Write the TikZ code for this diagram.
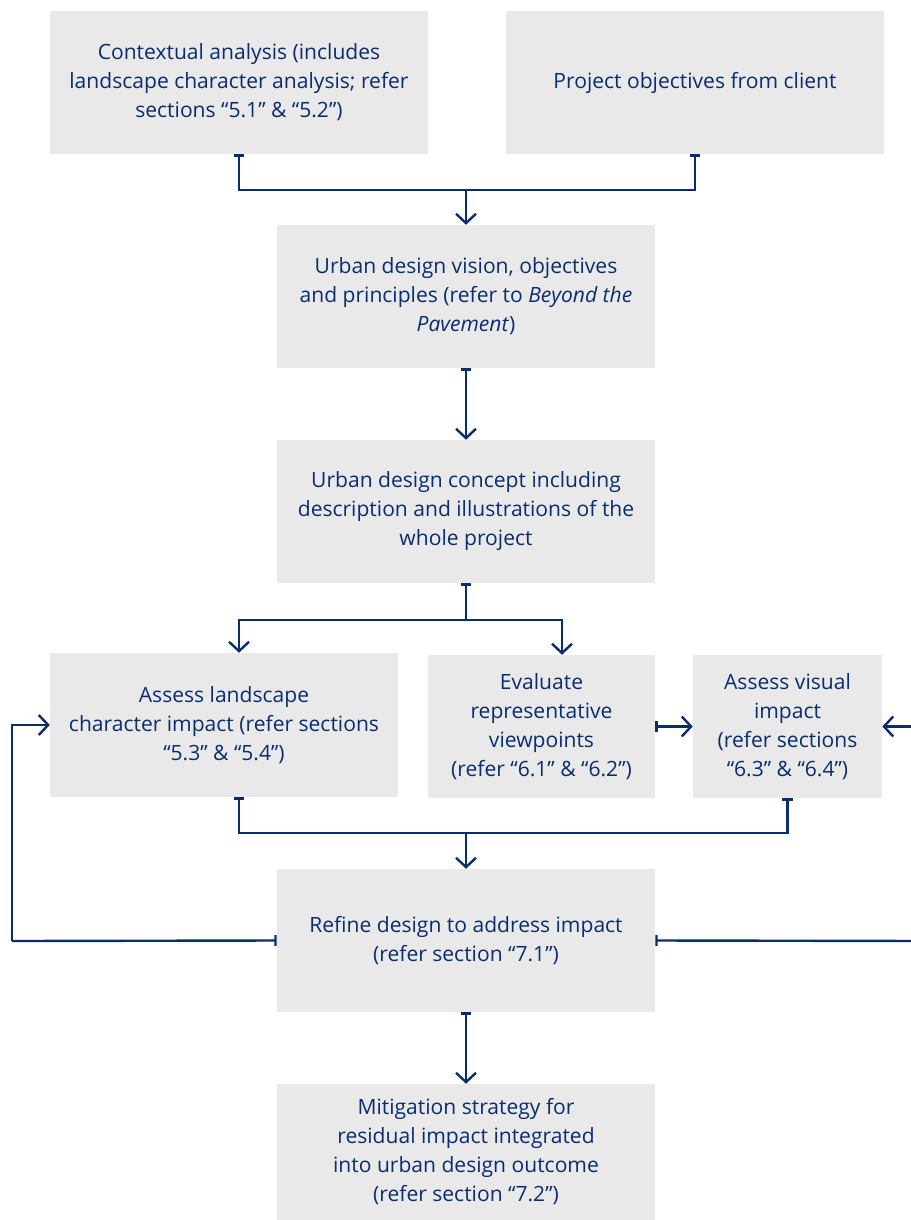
\documentclass[tikz,border=0pt]{standalone}
\usepackage{fontspec}
\setmainfont{Open Sans}
\usepackage{xcolor}
\usepackage{tikz}
\usetikzlibrary{calc,arrows.meta,positioning}
\definecolor{navy}{HTML}{0B2D6E}
\definecolor{boxgray}{HTML}{E9E9E9}
\tikzset{>={Straight Barb[length=7pt,width=15pt]}}
\tikzset{
  stepbox/.style={fill=boxgray, text=navy, align=center, inner sep=0pt,
    font=\fontsize{15.8}{21.75}\selectfont,
    minimum width=283.5pt, minimum height=107.25pt},
  link/.style={draw=navy, line width=1.8pt, {Bar[width=8pt]}->},
  mergeline/.style={draw=navy, line width=1.8pt, {Bar[width=8pt]}-},
  feed/.style={draw=navy, line width=1.8pt, ->}
}

\begin{document}
\begin{tikzpicture}[x=0.75pt,y=-0.75pt]

                % Page frame
                \useasboundingbox (0,0) rectangle (910,1220);

                % Boxes
                \node[stepbox] (ctx) at (239,82.5) {Contextual analysis (includes\\landscape character analysis; refer\\sections “5.1” \& “5.2”)};
                \node[stepbox] (obj) at (695,82.5) {Project objectives from client};
                \node[stepbox] (vis) at (466,296.5) {Urban design vision, objectives\\and principles (refer to \textit{Beyond the}\\\textit{Pavement})};
                \node[stepbox] (con) at (466,511.5) {Urban design concept including\\description and illustrations of the\\whole project};
                \node[stepbox, minimum width=261pt, minimum height=108pt] (lsc) at (224,725) {Assess landscape\\character impact (refer sections\\“5.3” \& “5.4”)};
                \node[stepbox, minimum width=170.25pt] (eva) at (541.5,726.5) {Evaluate\\representative\\viewpoints\\(refer “6.1” \& “6.2”)};
                \node[stepbox, minimum width=141.75pt] (vsi) at (787.5,726.5) {Assess visual\\impact\\(refer sections\\“6.3” \& “6.4”)};
                \node[stepbox] (ref) at (466,940.5) {Refine design to address impact\\(refer section “7.1”)};
                \node[stepbox, minimum height=102pt] (mit) at (466,1152) {Mitigation strategy for\\residual impact integrated\\into urban design outcome\\(refer section “7.2”)};

                % Junction points
                \coordinate (j1) at (466,190);
                \coordinate (j2) at (466,620);
                \coordinate (j3) at (466,833);
                \coordinate (fbl) at (12,941);
                \coordinate (fbr) at (930,941);

                % Top merge
                \draw[mergeline] (ctx.south) |- (j1);
                \draw[mergeline] (obj.south) |- (j1);
                \draw[feed] (j1) -- (vis.north);

                % Main line
                \draw[link] (vis.south) -- (con.north);
                \draw[mergeline] (con.south) -- (j2);
                \draw[feed] (j2) -| (lsc.north -| ctx.south);
                \draw[feed] (j2) -| ($(eva.north)+(20.5,0)$);
                \draw[link] (eva.east) -- (vsi.west);

                % Assessment merge
                \draw[mergeline] (lsc.south -| ctx.south) |- (j3);
                \draw[mergeline] (vsi.south) |- (j3);
                \draw[feed] (j3) -- (ref.north);
                \draw[link] (ref.south) -- (mit.north);

                % Feedback loops
                \draw[mergeline] (ref.west) -- (fbl);
                \draw[feed] (fbl) |- (lsc.west);
                \draw[mergeline] (ref.east) -- (fbr);
                \draw[feed] (fbr) |- (vsi.east);

            \end{tikzpicture}
\end{document}
